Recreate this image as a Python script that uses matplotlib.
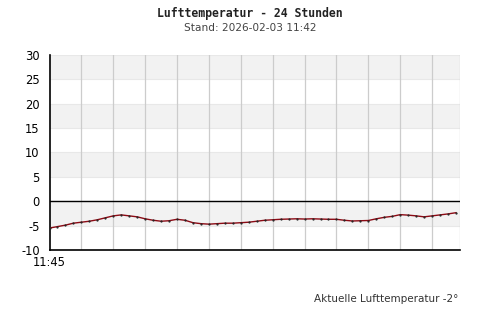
import matplotlib
matplotlib.use("Agg")
import matplotlib.pyplot as plt
import numpy as np

title = "Lufttemperatur - 24 Stunden"
subtitle = "Stand: 2026-02-03 11:42"
footer = "Aktuelle Lufttemperatur -2°"
start_label = "11:45"

# hours since start (half-hour steps) and temperature values
hours = [i * 0.5 for i in range(52)]
temps = [-5.5, -5.2, -4.9, -4.5, -4.3, -4.1, -3.8, -3.4, -3.0, -2.8,
         -3.0, -3.2, -3.6, -3.9, -4.1, -4.0, -3.7, -3.9, -4.4, -4.6,
         -4.7, -4.6, -4.5, -4.5, -4.4, -4.3, -4.1, -3.9, -3.8, -3.7,
         -3.65, -3.6, -3.65, -3.6, -3.65, -3.7, -3.7, -3.9, -4.05, -4.0,
         -3.95, -3.6, -3.3, -3.1, -2.75, -2.85, -3.0, -3.2, -3.0, -2.8,
         -2.6, -2.35]
yticks = [-10, -5, 0, 5, 10, 15, 20, 25, 30]

fig = plt.figure(figsize=(5, 3.2), dpi=100)
ax = fig.add_axes([0.099, 0.21875, 0.821, 0.6095])
xmax = 25.75
ax.set_xlim(0, xmax)
ax.set_ylim(-10, 30)

# alternating bands
for lo in range(-10, 30, 5):
    if (lo // 5) % 2 == 1:  # -5..0, 5..10, 15..20, 25..30
        ax.axhspan(lo, lo + 5, color="#F2F2F2", zorder=0, lw=0)
for v in range(-5, 31, 5):
    ax.axhline(v, color="#E8E8E8", lw=0.8, zorder=0.5)
for xv in np.arange(2, xmax, 2):
    ax.axvline(xv, color="#CCCCCC", lw=0.9, zorder=0.6)
ax.axvline(xmax, color="#CCCCCC", lw=0.9, zorder=0.6)
ax.axhline(0, color="black", lw=1.0, zorder=1)

ax.plot(hours, temps, color="#8B0A14", lw=1.0, zorder=3,
        marker=".", markersize=1.2, markerfacecolor="#222222",
        markeredgecolor="#222222")

for s in ["top", "right"]:
    ax.spines[s].set_visible(False)
ax.spines["left"].set_linewidth(1.2)
ax.spines["bottom"].set_linewidth(1.2)
ax.set_yticks(yticks)
ax.set_yticklabels([str(t) for t in yticks])
ax.set_xticks([0])
ax.set_xticklabels([start_label])
ax.tick_params(axis="y", length=0, pad=7, labelsize=8.3)
ax.tick_params(axis="x", length=0, pad=4, labelsize=8.3)

fig.text(0.5, 1 - 14 / 320, title, ha="center", va="center",
         family="DejaVu Sans Mono", weight="bold", fontsize=8.3, color="#222222")
fig.text(0.5, 1 - 28 / 320, subtitle, ha="center", va="center",
         fontsize=7.6, color="#444444")
fig.text(458 / 500, 1 - 299 / 320, footer, ha="right", va="center",
         fontsize=7.5, color="#333333")

fig.savefig("out.png", dpi=100)
